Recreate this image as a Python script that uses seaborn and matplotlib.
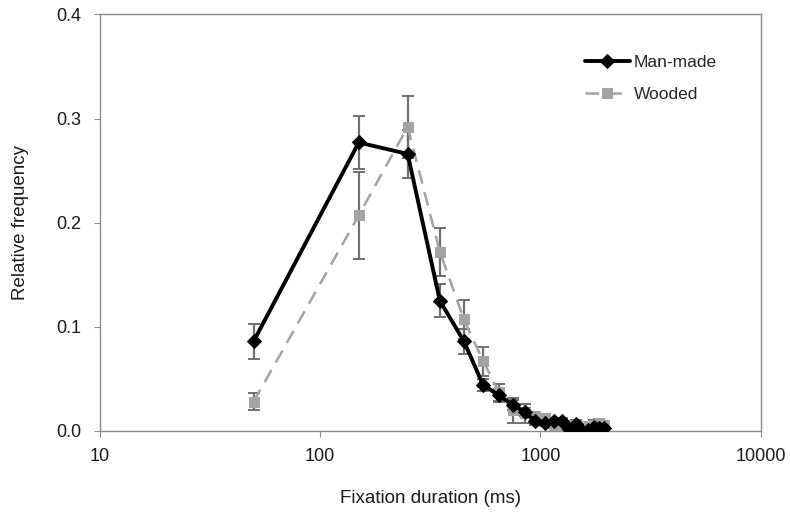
import matplotlib
matplotlib.use("Agg")
import matplotlib.pyplot as plt
import seaborn as sns
import pandas as pd

# Bin centres of fixation duration (ms)
durations = [50, 150, 250, 350, 450, 550, 650, 750, 850, 950, 1050, 1150,
             1250, 1350, 1450, 1550, 1650, 1750, 1850, 1950]

man_made = [0.086, 0.277, 0.266, 0.125, 0.086, 0.044, 0.034, 0.025, 0.018, 0.009,
            0.008, 0.009, 0.009, 0.002, 0.007, 0.000, 0.001, 0.004, 0.003, 0.003]
man_made_err = [0.017, 0.025, 0.023, 0.016, 0.012, 0.006, 0.006, 0.005, 0.004, 0.003,
                0.003, 0.003, 0.003, 0.003, 0.003, 0.003, 0.003, 0.003, 0.003, 0.003]

wooded = [0.028, 0.207, 0.292, 0.172, 0.107, 0.067, 0.037, 0.020, 0.017, 0.014,
          0.012, 0.006, 0.006, 0.006, 0.005, 0.005, 0.004, 0.006, 0.008, 0.006]
wooded_err = [0.008, 0.042, 0.030, 0.023, 0.019, 0.014, 0.008, 0.012, 0.009, 0.004,
              0.004, 0.003, 0.003, 0.003, 0.003, 0.003, 0.003, 0.004, 0.003, 0.003]

series_names = ["Man-made", "Wooded"]
x_ticks = [10, 100, 1000, 10000]
y_ticks = [0.0, 0.1, 0.2, 0.3, 0.4]

df = pd.DataFrame({
    "duration": durations * 2,
    "freq": man_made + wooded,
    "err": man_made_err + wooded_err,
    "group": [series_names[0]] * len(durations) + [series_names[1]] * len(durations),
})

sns.set_style("white")
plt.rcParams["font.family"] = ["Liberation Sans", "DejaVu Sans"]

fig = plt.figure(figsize=(7.9, 5.16), dpi=100)
ax = fig.add_axes([0.126, 0.165, 0.837, 0.807])

gray = "#a3a3a3"
bar_col = "#707070"

mm = df[df.group == series_names[0]]
wd = df[df.group == series_names[1]]

# error bars for both series
for sub in (wd, mm):
    ax.errorbar(sub.duration, sub.freq, yerr=sub.err, fmt="none", ecolor=bar_col,
                elinewidth=1.6, capsize=4, capthick=1.4, zorder=2)

sns.lineplot(data=wd, x="duration", y="freq", ax=ax, color=gray, linewidth=1.8,
             marker="s", markersize=7.5, markeredgecolor=gray,
             label=series_names[1], zorder=3)
sns.lineplot(data=mm, x="duration", y="freq", ax=ax, color="black", linewidth=2.8,
             marker="D", markersize=7.5, markeredgecolor="black",
             label=series_names[0], zorder=4)
for ln in ax.get_lines():
    if ln.get_marker() == "s":
        ln.set_linestyle((0, (5.5, 3.5)))

ax.set_xscale("log")
ax.set_xlim(10, 10000)
ax.set_ylim(0, 0.4)
ax.set_xticks(x_ticks)
ax.set_xticklabels([str(t) for t in x_ticks])
ax.minorticks_off()
ax.set_yticks(y_ticks)
ax.set_yticklabels([f"{t:.1f}" for t in y_ticks])

for s in ax.spines.values():
    s.set_visible(True)
    s.set_color("#8c8c8c")
    s.set_linewidth(1.0)

ax.tick_params(axis="both", which="major", direction="out", length=4, width=0.8,
               color="#8c8c8c", labelsize=13, labelcolor="#1a1a1a",
               left=True, bottom=True)
ax.tick_params(axis="x", pad=8)
ax.tick_params(axis="y", pad=9)

ax.set_xlabel("Fixation duration (ms)", fontsize=13.5, color="#1a1a1a", labelpad=18)
ax.set_ylabel("Relative frequency", fontsize=13.5, color="#1a1a1a", labelpad=20)

handles, labels = ax.get_legend_handles_labels()
order = [labels.index(series_names[0]), labels.index(series_names[1])]
ax.legend([handles[i] for i in order], [labels[i] for i in order],
          loc="upper left", bbox_to_anchor=(0.71, 0.94), frameon=False,
          fontsize=12.5, handlelength=2.6, handletextpad=0.25, labelspacing=0.95)

fig.savefig("out.png", dpi=100)
